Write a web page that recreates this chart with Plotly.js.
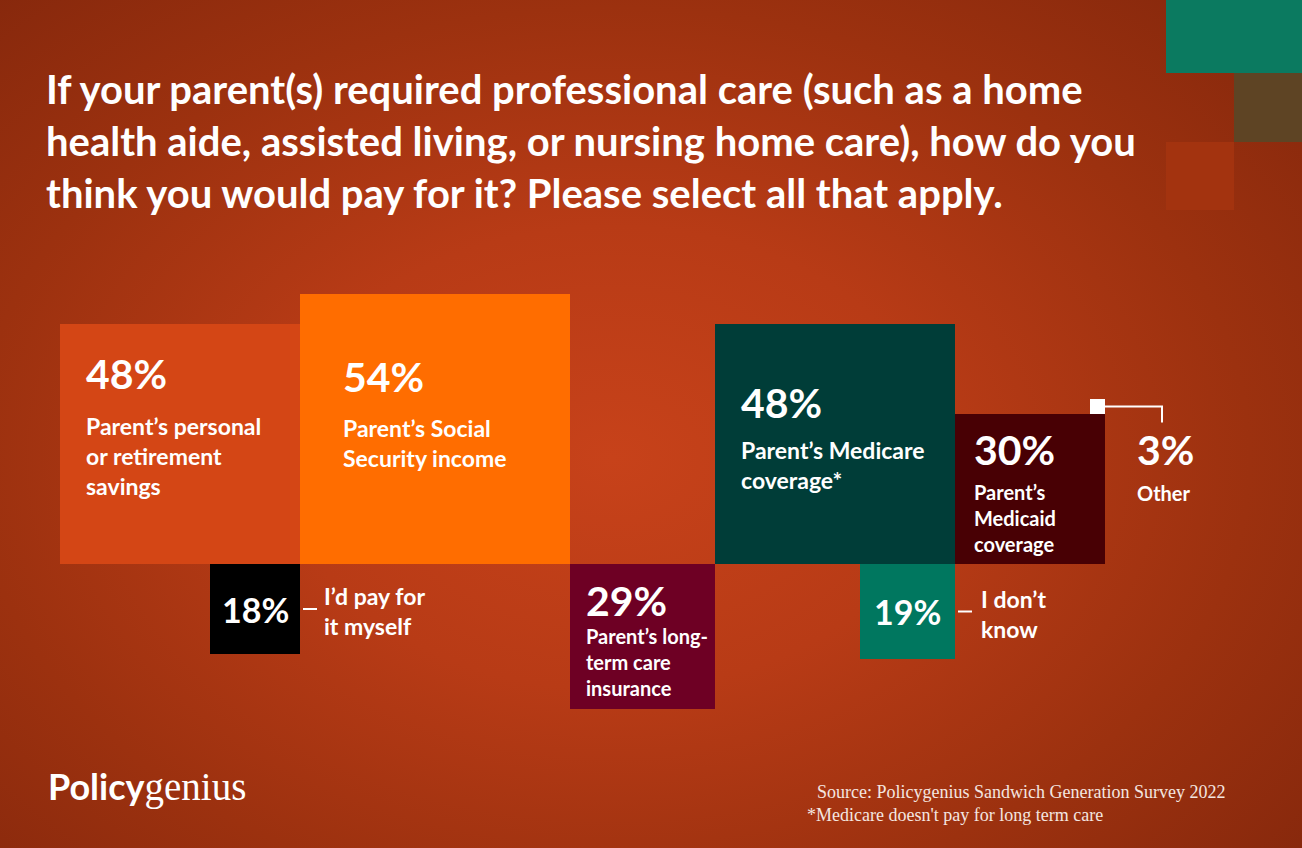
<!DOCTYPE html>
<html>
<head>
<meta charset="utf-8">
<script src="https://cdn.plot.ly/plotly-3.0.1.min.js"></script>
<style>
  html, body { margin: 0; padding: 0; width: 1302px; height: 848px; overflow: hidden; }
  body { background: radial-gradient(ellipse 72% 78% at 47% 54%, #C7421A 0%, #B83B16 35%, #9C310F 68%, #84270C 100%); }
  #chart { width: 1302px; height: 848px; }
</style>
</head>
<body>
<div id="chart"></div>
<script>
// ---------- DATA ----------
const categories = [
  "Parent's personal or retirement savings",
  "Parent's Social Security income",
  "I'd pay for it myself",
  "Parent's long-term care insurance",
  "Parent's Medicare coverage*",
  "Parent's Medicaid coverage",
  "I don't know",
  "Other"
];
const values = [48, 54, 18, 29, 48, 30, 19, 3];
const valueLabels = ["48%", "54%", "18%", "29%", "48%", "30%", "19%", "3%"];
const displayLabels = [
  "Parent’s personal<br>or retirement<br>savings",
  "Parent’s Social<br>Security income",
  "I’d pay for<br>it myself",
  "Parent’s long-<br>term care<br>insurance",
  "Parent’s Medicare<br>coverage*",
  "Parent’s<br>Medicaid<br>coverage",
  "I don’t<br>know",
  "Other"
];
const colors = ["#D44615", "#FF6D00", "#000000", "#6E0024", "#003D38", "#480004", "#00775F", "#FFFFFF"];

// ---------- LAYOUT OF SQUARES (side = value) ----------
const PX = 5;           // pixels per percentage unit
const X0 = 60;          // pixel position of x = 0
const Y0 = 564;         // pixel position of baseline y = 0
const W = 1302, H = 848;
const dx = p => p / PX; // pixel offset -> data units

// chain placement rules
const sq = [];
function place(i, left, base) { sq[i] = {x0: left, x1: left + values[i], y0: base, y1: base + values[i]}; }
place(0, 0, 0);                                   // personal, above
place(1, sq[0].x1, 0);                            // social security, above
place(2, sq[0].x1 - values[2], -values[2]);       // myself, below
place(3, sq[1].x1, -values[3]);                   // LTC, below
place(4, sq[3].x1, 0);                            // Medicare, above
place(5, sq[4].x1, 0);                            // Medicaid, above
place(6, sq[4].x1 - values[6], -values[6]);       // don't know, below
place(7, sq[5].x1 - values[7], sq[5].y1);         // other, on top of Medicaid

const barTrace = {
  type: 'bar',
  x: sq.map(s => (s.x0 + s.x1) / 2),
  y: sq.map(s => s.y1 - s.y0),
  base: sq.map(s => s.y0),
  width: values,
  text: categories,
  marker: {color: colors, line: {width: 0}},
  textposition: 'none',
  hoverinfo: 'text',
  showlegend: false
};

const FONT = 'Lato, "Noto Sans", sans-serif';
const ann = [];
function addText(x, y, text, size, xanchor, yanchor) {
  ann.push({x: x, y: y, xref: 'x', yref: 'y', text: text, showarrow: false,
    xanchor: xanchor || 'left', yanchor: yanchor || 'middle', align: 'left',
    font: {family: FONT, size: size, color: '#FFFFFF', weight: 700}});
}
function block(lines, size, firstCenterY) { // returns y of block center for middle anchor
  const n = lines.split('<br>').length;
  return firstCenterY - dx((n - 1) * size * 1.3 / 2);
}
const BIG = 41, SMALL = 34, LBL = 23, LBL2 = 20;

// inside-square texts: [index, left pad px, pct offset px from top, label offset px from top, label size]
const inside = [
  [0, 24, 49, 102, LBL],
  [1, 41, 82, 134, LBL],
  [3, 14, 36, 72, LBL2],
  [4, 24, 78, 126, LBL],
  [5, 17, 35, 78, LBL2]
];
inside.forEach(([i, pad, po, lo, ls]) => {
  const s = sq[i];
  addText(s.x0 + dx(pad), s.y1 - dx(po), '<b>' + valueLabels[i] + '</b>', BIG);
  addText(s.x0 + dx(pad), block(displayLabels[i], ls, s.y1 - dx(lo)), '<b>' + displayLabels[i] + '</b>', ls);
});

// small squares with centered value and side label
[[2, 22], [6, 24]].forEach(([i, gap]) => {
  const s = sq[i];
  const cy = (s.y0 + s.y1) / 2;
  addText((s.x0 + s.x1) / 2, cy, '<b>' + valueLabels[i] + '</b>', SMALL, 'center');
  addText(s.x1 + dx(gap), cy - dx(2), '<b>' + displayLabels[i] + '</b>', LBL);
});

// "Other" text aligned with Medicaid text
{
  const m = sq[5];
  addText(m.x1 + dx(30), m.y1 - dx(35), '<b>' + valueLabels[7] + '</b>', BIG);
  addText(m.x1 + dx(30), m.y1 - dx(79), '<b>' + displayLabels[7] + '</b>', LBL2);
}

// connector lines
const shapes = [];
const lineStyle = {color: '#FFFFFF', width: 2};
[2, 6].forEach(i => {
  const s = sq[i], cy = (s.y0 + s.y1) / 2;
  shapes.push({type: 'line', xref: 'x', yref: 'y', x0: s.x1 + dx(3), x1: s.x1 + dx(17), y0: cy, y1: cy, line: lineStyle});
});
{
  const s = sq[7], cy = (s.y0 + s.y1) / 2;
  const xr = s.x1 + dx(57);
  shapes.push({type: 'path', xref: 'x', yref: 'y',
    path: `M ${s.x1} ${cy} L ${xr} ${cy} L ${xr} ${cy - dx(16)}`, line: lineStyle});
}

// decorative squares (top-right)
const toX = p => (p - X0) / PX, toY = p => (Y0 - p) / PX;
[[1166, 0, 1302, 73, '#0B7A60'], [1234, 73, 1302, 142, '#5E4424'], [1166, 142, 1234, 210, '#A3330F']].forEach(([a, b, c, d, col]) => {
  shapes.push({type: 'rect', xref: 'x', yref: 'y', x0: toX(a), x1: toX(c), y0: toY(b), y1: toY(d), fillcolor: col, line: {width: 0}, layer: 'below'});
});

// footer
ann.push({xref: 'paper', yref: 'paper', x: 46 / W, y: 1 - 786 / H, xanchor: 'left', yanchor: 'middle', showarrow: false,
  text: "<span style='font-family:Lato;font-weight:bold;font-size:36px'>Policy</span><span style='font-family:\"Liberation Serif\";font-size:39px'>genius</span>",
  font: {family: FONT, size: 36, color: '#FFFFFF'}});
ann.push({xref: 'paper', yref: 'paper', x: 815 / W, y: 1 - 792 / H, xanchor: 'left', yanchor: 'middle', showarrow: false,
  text: 'Source: Policygenius Sandwich Generation Survey 2022', font: {family: '"Liberation Serif", serif', size: 18, color: '#F4E6E0'}});
ann.push({xref: 'paper', yref: 'paper', x: 805 / W, y: 1 - 815 / H, xanchor: 'left', yanchor: 'middle', showarrow: false,
  text: "*Medicare doesn't pay for long term care", font: {family: '"Liberation Serif", serif', size: 18, color: '#F4E6E0'}});

const layout = {
  width: W, height: H,
  margin: {l: 0, r: 0, t: 0, b: 0, pad: 0},
  paper_bgcolor: 'rgba(0,0,0,0)',
  plot_bgcolor: 'rgba(0,0,0,0)',
  barmode: 'overlay',
  showlegend: false,
  title: {
    text: '<b>If your parent(s) required professional care (such as a home<br>health aide, assisted living, or nursing home care), how do you<br>think you would pay for it? Please select all that apply.</b>',
    x: 46 / W, xanchor: 'left', xref: 'paper',
    y: 1 - 104 / H, yanchor: 'top', yref: 'paper',
    font: {family: FONT, size: 40, color: '#FFFFFF'}
  },
  xaxis: {range: [toX(0), toX(W)], visible: false, fixedrange: true},
  yaxis: {range: [toY(H), toY(0)], visible: false, fixedrange: true},
  shapes: shapes,
  annotations: ann
};

Plotly.newPlot('chart', [barTrace], layout, {displayModeBar: false, responsive: false});
</script>
</body>
</html>
